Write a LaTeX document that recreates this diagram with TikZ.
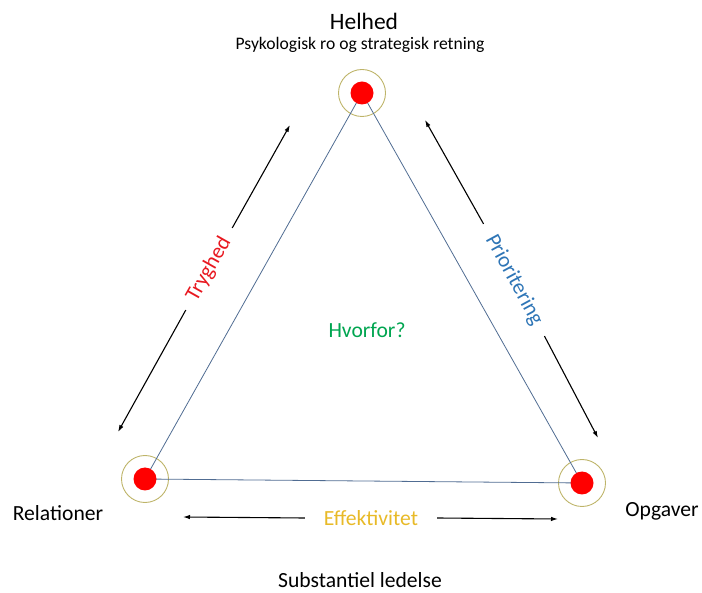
\documentclass[tikz,border=0pt]{standalone}
\usepackage{fontspec}
\setmainfont{Carlito}
\usepackage{tikz}
\usetikzlibrary{arrows.meta}
\definecolor{ringcol}{RGB}{190,180,105}
\definecolor{sidecol}{RGB}{80,108,146}
\definecolor{trygcol}{RGB}{232,24,32}
\definecolor{priocol}{RGB}{46,117,182}
\definecolor{effcol}{RGB}{232,186,40}
\definecolor{hvorcol}{RGB}{0,165,80}
\tikzset{ dot/.style={circle,fill=red,draw=none,minimum size=23pt,inner sep=0pt},
  ring/.style={circle,draw=ringcol,line width=0.9pt,minimum size=47pt,inner sep=0pt},
  side/.style={draw=sidecol,line width=0.8pt},
  arr/.style={-{Latex[length=7pt,width=4.5pt]},line width=1.1pt},
  lbl/.style={inner sep=0pt,font=\fontsize{21.6}{26}\selectfont},
  side label/.style={lbl,inner xsep=12pt}}

\begin{document}
\begin{tikzpicture}[x=1pt,y=-1pt]
\useasboundingbox (0,0) rectangle (702,593);
%[scale=1, transform shape]
  \foreach \pos/\name in {{(362,93)/helhed}, {(145,479)/relationer}, {(582,483)/opgaver}}
        \node[ring] (\name-ring) at \pos {};
   \foreach \from/\to in {helhed/relationer, relationer/opgaver, opgaver/helhed}
	\draw [side] (\from-ring.center) -- (\to-ring.center);
   \foreach \name in {helhed, relationer, opgaver}
        \node[dot] (\name) at (\name-ring.center) {};

   % vertex texts
   \node[lbl,font=\fontsize{23.5}{28}\selectfont] (tHelhed) at (364,21) {Helhed};
   \node[lbl,font=\fontsize{17.6}{21}\selectfont] (tPsyk) at (360,45) {Psykologisk ro og strategisk retning};
   \node[lbl] (tRelationer) at (58,513) {Relationer};
   \node[lbl] (tOpgaver) at (662,511) {Opgaver};
   \node[lbl] (tSubst) at (360,580) {Substantiel ledelse};
   \node[lbl,text=hvorcol] (tHvorfor) at (367,330) {Hvorfor?};

   % side arrows
   \node[side label,text=trygcol,rotate=60.5] (tryghed) at (209,269) {Tryghed};
   \node[side label,text=priocol,rotate=-61.5,inner xsep=14pt] (prioritering) at (514,280) {Prioritering};
   \node[side label,text=effcol,inner xsep=19pt] (effektivitet) at (371,518) {Effektivitet};
   \coordinate (trygA) at (290,125);
   \coordinate (trygB) at (118,432);
   \coordinate (prioA) at (425,120);
   \coordinate (prioB) at (598,438);
   \coordinate (effA) at (183,517);
   \coordinate (effB) at (558,519);
   \foreach \lab/\a/\b in {tryghed/trygA/trygB, prioritering/prioB/prioA, effektivitet/effB/effA}{
	\draw [arr] (\lab.east) -- (\a);
	\draw [arr] (\lab.west) -- (\b);}
\end{tikzpicture}
\end{document}
